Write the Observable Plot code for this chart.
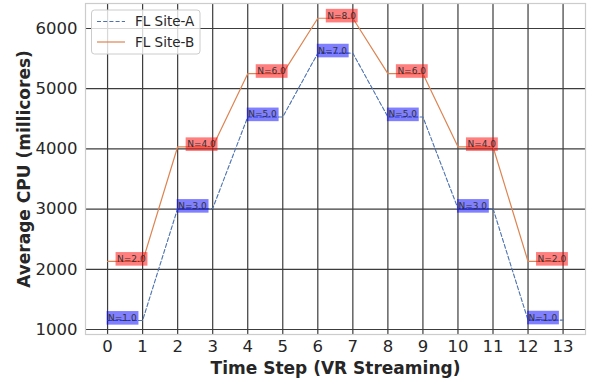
<!DOCTYPE html>
<html><head><meta charset="utf-8">
<script src="https://cdn.jsdelivr.net/npm/d3@7"></script>
<script src="https://cdn.jsdelivr.net/npm/@observablehq/plot@0.6"></script>
<style>
body{margin:0;background:#fff;}
#chart{position:relative;width:590px;height:384px;}
svg{font-family:"DejaVu Sans",sans-serif;}
</style></head><body><div id="chart"></div>
<script>
const steps = [0,1,2,3,4,5,6,7,8,9,10,11,12,13];
const siteA = [1150,1150,3010,3010,4530,4530,5590,5590,4530,4530,3010,3010,1155,1155];
const siteB = [2130,2130,4035,4035,5250,5250,6170,6170,5250,5250,4035,4035,2130,2130];
const labelSteps = [0,2,4,6,8,10,12];
const nA = [1,3,5,7,5,3,1];
const nB = [2,4,6,8,6,4,2];
const yTicks = [1000,2000,3000,4000,5000,6000];
const seriesNames = ["FL Site-A","FL Site-B"];
const colA = "#4c72b0", colB = "#dd8452";

const dataA = steps.map((s,i)=>({step:s, v:siteA[i]}));
const dataB = steps.map((s,i)=>({step:s, v:siteB[i]}));
const labA = labelSteps.map((s,i)=>({step:s, v:siteA[steps.indexOf(s)], t:"N="+nA[i].toFixed(1)}));
const labB = labelSteps.map((s,i)=>({step:s, v:siteB[steps.indexOf(s)], t:"N="+nB[i].toFixed(1)}));

const chart = Plot.plot({
  width:590, height:384, marginLeft:85, marginRight:5, marginTop:3, marginBottom:50,
  style:{fontFamily:"DejaVu Sans", fontSize:"16px", color:"#262626", background:"#fff"},
  x:{domain:[-0.63,13.64]},
  y:{domain:[917,6415]},
  marks:[
    Plot.gridX(steps,{stroke:"#3c3c3c",strokeOpacity:1,strokeWidth:1.2}),
    Plot.gridY(yTicks,{stroke:"#3c3c3c",strokeOpacity:1,strokeWidth:1.2}),
    Plot.frame({stroke:"#cccccc",strokeWidth:1.2}),
    Plot.line(dataA,{x:"step",y:"v",stroke:colA,strokeWidth:1.1,strokeDasharray:"4,2.2"}),
    Plot.line(dataB,{x:"step",y:"v",stroke:colB,strokeWidth:1.2}),
    Plot.text(labA,{x:"step",y:"v",text:"t",textAnchor:"start",dx:0.5,dy:-2.5,fontSize:9,fill:"#333",ariaDescription:"labA"}),
    Plot.text(labB,{x:"step",y:"v",text:"t",textAnchor:"start",dx:9.5,dy:-2.5,fontSize:9,fill:"#333",ariaDescription:"labB"}),
    Plot.axisX(steps,{tickSize:0,tickPadding:6,fontSize:16.5,label:null,tickFormat:d=>String(d)}),
    Plot.axisY(yTicks,{tickSize:0,tickPadding:8,fontSize:16.5,label:null,tickFormat:d=>String(d)}),
    Plot.text(["Time Step (VR Streaming)"],{text:d=>d,frameAnchor:"bottom",textAnchor:"middle",lineAnchor:"middle",dy:34,fontWeight:"bold",fontSize:17,fill:"#262626"}),
    Plot.text(["Average CPU (millicores)"],{text:d=>d,frameAnchor:"left",textAnchor:"middle",lineAnchor:"middle",dx:-61,rotate:-90,fontWeight:"bold",fontSize:17,fill:"#262626"})
  ]
});
document.getElementById("chart").append(chart);

const NS = "http://www.w3.org/2000/svg";
function boxes(desc, color){
  chart.querySelectorAll(`g[aria-description="${desc}"] text`).forEach(t=>{
    const b = t.getBBox();
    const r = document.createElementNS(NS,"rect");
    r.setAttribute("x", b.x-1.5); r.setAttribute("y", b.y-1.8);
    r.setAttribute("width", b.width+3); r.setAttribute("height", b.height+3.6);
    r.setAttribute("fill", color); r.setAttribute("fill-opacity", 0.5);
    r.setAttribute("stroke", "none");
    if (t.getAttribute("transform")) r.setAttribute("transform", t.getAttribute("transform"));
    t.parentNode.insertBefore(r, t);
  });
}
boxes("labA","blue");
boxes("labB","red");

// legend
const svg = d3.select(chart);
const lg = svg.append("g");
lg.append("rect").attr("x",91.5).attr("y",10).attr("width",108.5).attr("height",44).attr("rx",3)
  .attr("fill","#fff").attr("fill-opacity",0.8).attr("stroke","#cccccc");
const items = [{name:seriesNames[0],color:colA,dash:"4,2.2",y:21.5},{name:seriesNames[1],color:colB,dash:null,y:42}];
items.forEach(it=>{
  lg.append("line").attr("x1",97).attr("x2",125).attr("y1",it.y).attr("y2",it.y)
    .attr("stroke",it.color).attr("stroke-width",1.2).attr("stroke-dasharray",it.dash);
  lg.append("text").attr("x",135).attr("y",it.y).attr("dy","0.35em").attr("font-size",13.5)
    .attr("text-anchor","start").attr("fill","#262626").text(it.name);
});
</script></body></html>
